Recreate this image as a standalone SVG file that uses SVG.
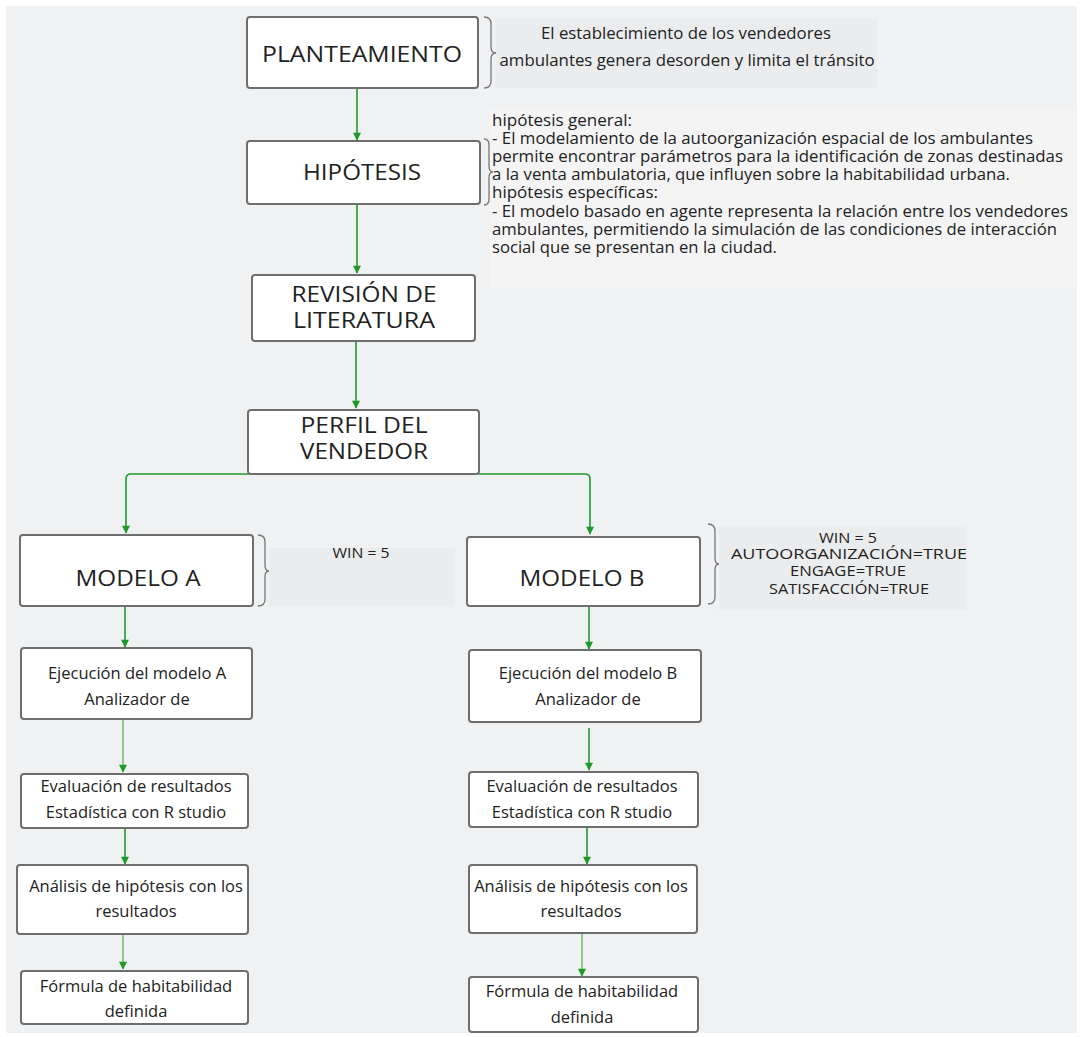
<svg xmlns="http://www.w3.org/2000/svg" width="1083" height="1037" viewBox="0 0 1083 1037">
<defs>
<marker id="arr" viewBox="0 0 10 10" refX="9" refY="5" markerWidth="9" markerHeight="8" markerUnits="userSpaceOnUse" orient="auto">
<path d="M0,0 L10,5 L0,10 z" fill="#1f9a2a"/>
</marker>
<style>
.box{fill:#ffffff;stroke:#6e6e6e;stroke-width:2}
.big{font-family:"Open Sans","Liberation Sans",sans-serif;font-size:22px;fill:#222;text-anchor:middle}
.mid{font-family:"Open Sans","Liberation Sans",sans-serif;font-size:16.5px;fill:#222;text-anchor:middle}
.par{font-family:"Open Sans","Liberation Sans",sans-serif;font-size:15px;fill:#222;text-anchor:middle}
.cond{font-family:"Open Sans","Liberation Sans",sans-serif;font-size:17px;fill:#222}
.hyp{font-family:"Open Sans","Liberation Sans",sans-serif;font-size:15.5px;fill:#222}
.note{fill:#ebecee}
.brace{fill:none;stroke:#777;stroke-width:1.3}
.con{fill:none;stroke:#1f9a2a;stroke-width:1.6;marker-end:url(#arr)}
.con2{fill:none;stroke:#3aaa3a;stroke-width:1.1;marker-end:url(#arr)}
</style>
</defs>
<rect x="0" y="0" width="1083" height="1037" fill="#ffffff"/>
<rect x="6" y="6" width="1071" height="1027" fill="#f0f1f3"/>

<g id="connectors">
<path class="con" d="M357,88 V140"/>
<path class="con" d="M357,204 V273"/>
<path class="con" d="M356,341 V408"/>
<path class="con" d="M250,474 H131 Q126,474 126,479 V533"/>
<path class="con" d="M478,474 H585 Q590,474 590,479 V534"/>
<path class="con" d="M125,606 V647"/>
<path class="con2" d="M123,719 V772"/>
<path class="con" d="M125,828 V864"/>
<path class="con2" d="M123,934 V969"/>
<path class="con" d="M589,606 V649"/>
<path class="con" d="M589,728 V770"/>
<path class="con" d="M587,828 V864"/>
<path class="con2" d="M582,934 V976"/>
</g>

<g id="planteamiento">
<rect class="box" x="247" y="17" width="231" height="71" rx="3"/>
<text class="big" x="362" y="62" textLength="200" lengthAdjust="spacingAndGlyphs">PLANTEAMIENTO</text>
</g>
<g id="planteamiento-note">
<path class="brace" d="M484,17 Q491,17 491,24 V47 Q491,53 496,53 Q491,53 491,59 V81 Q491,88 484,88"/>
<rect class="note" x="496" y="18" width="381" height="70"/>
<text class="cond" x="686" y="39" text-anchor="middle" textLength="290" lengthAdjust="spacingAndGlyphs">El establecimiento de los vendedores</text>
<text class="cond" x="687" y="66" text-anchor="middle" textLength="375" lengthAdjust="spacingAndGlyphs">ambulantes genera desorden y limita el tránsito</text>
</g>

<g id="hipotesis">
<rect class="box" x="247" y="141" width="233" height="63" rx="3"/>
<text class="big" x="362" y="180" textLength="118" lengthAdjust="spacingAndGlyphs">HIPÓTESIS</text>
</g>
<g id="hipotesis-note">
<rect x="490" y="110" width="586" height="178" fill="#f4f4f5"/>
<path class="brace" d="M484,139 Q489,139 489,145 V166 Q489,172 493,172 Q489,172 489,178 V199 Q489,205 484,205"/>
<text class="hyp" x="492" y="126" textLength="140" lengthAdjust="spacingAndGlyphs">hipótesis general:</text>
<text class="hyp" x="492" y="144" textLength="541" lengthAdjust="spacingAndGlyphs">- El modelamiento de la autoorganización espacial de los ambulantes</text>
<text class="hyp" x="492" y="162" textLength="571" lengthAdjust="spacingAndGlyphs">permite encontrar parámetros para la identificación de zonas destinadas</text>
<text class="hyp" x="492" y="180" textLength="518" lengthAdjust="spacingAndGlyphs">a la venta ambulatoria, que influyen sobre la habitabilidad urbana.</text>
<text class="hyp" x="492" y="198" textLength="166" lengthAdjust="spacingAndGlyphs">hipótesis específicas:</text>
<text class="hyp" x="492" y="217" textLength="576" lengthAdjust="spacingAndGlyphs">- El modelo basado en agente representa la relación entre los vendedores</text>
<text class="hyp" x="492" y="235" textLength="565" lengthAdjust="spacingAndGlyphs">ambulantes, permitiendo la simulación de las condiciones de interacción</text>
<text class="hyp" x="492" y="253" textLength="285" lengthAdjust="spacingAndGlyphs">social que se presentan en la ciudad.</text>
</g>

<g id="revision">
<rect class="box" x="252" y="275" width="223" height="66" rx="3"/>
<text class="big" x="364" y="302" textLength="145" lengthAdjust="spacingAndGlyphs">REVISIÓN DE</text>
<text class="big" x="364" y="328" textLength="142" lengthAdjust="spacingAndGlyphs">LITERATURA</text>
</g>

<g id="perfil">
<rect class="box" x="248" y="410" width="231" height="64" rx="3"/>
<text class="big" x="364" y="433" textLength="127" lengthAdjust="spacingAndGlyphs">PERFIL DEL</text>
<text class="big" x="364" y="459" textLength="128" lengthAdjust="spacingAndGlyphs">VENDEDOR</text>
</g>

<g id="modeloA">
<rect class="box" x="20" y="535" width="233" height="71" rx="3"/>
<text class="big" x="138" y="586" textLength="125" lengthAdjust="spacingAndGlyphs">MODELO A</text>
</g>
<g id="modeloA-note">
<path class="brace" d="M258,535 Q265,535 265,542 V565 Q265,571 269,571 Q265,571 265,577 V599 Q265,606 258,606"/>
<rect class="note" x="269" y="548" width="186" height="59"/>
<text class="par" x="361" y="558" textLength="57" lengthAdjust="spacingAndGlyphs">WIN = 5</text>
</g>

<g id="modeloB">
<rect class="box" x="467" y="537" width="233" height="69" rx="3"/>
<text class="big" x="582" y="586" textLength="125" lengthAdjust="spacingAndGlyphs">MODELO B</text>
</g>
<g id="modeloB-note">
<path class="brace" d="M708,524 Q715,524 715,531 V558 Q715,564 719,564 Q715,564 715,570 V597 Q715,604 708,604"/>
<rect class="note" x="719" y="527" width="248" height="83"/>
<text class="par" x="848" y="543" textLength="58" lengthAdjust="spacingAndGlyphs">WIN = 5</text>
<text class="par" x="849" y="559" textLength="236" lengthAdjust="spacingAndGlyphs">AUTOORGANIZACIÓN=TRUE</text>
<text class="par" x="848" y="576" textLength="116" lengthAdjust="spacingAndGlyphs">ENGAGE=TRUE</text>
<text class="par" x="849" y="594" textLength="160" lengthAdjust="spacingAndGlyphs">SATISFACCIÓN=TRUE</text>
</g>

<g id="ejecucionA">
<rect class="box" x="21" y="648" width="231" height="71" rx="3"/>
<text class="mid" x="137" y="679">Ejecución del modelo A</text>
<text class="mid" x="137" y="705">Analizador de</text>
</g>
<g id="evaluacionA">
<rect class="box" x="21" y="774" width="227" height="54" rx="3"/>
<text class="mid" x="136" y="792">Evaluación de resultados</text>
<text class="mid" x="136" y="818">Estadística con R studio</text>
</g>
<g id="analisisA">
<rect class="box" x="17" y="865" width="231" height="69" rx="3"/>
<text class="mid" x="136" y="892">Análisis de hipótesis con los</text>
<text class="mid" x="136" y="917">resultados</text>
</g>
<g id="formulaA">
<rect class="box" x="21" y="971" width="227" height="53" rx="3"/>
<text class="mid" x="136" y="992">Fórmula de habitabilidad</text>
<text class="mid" x="136" y="1017">definida</text>
</g>

<g id="ejecucionB">
<rect class="box" x="469" y="650" width="232" height="72" rx="3"/>
<text class="mid" x="588" y="679">Ejecución del modelo B</text>
<text class="mid" x="588" y="705">Analizador de</text>
</g>
<g id="evaluacionB">
<rect class="box" x="469" y="772" width="229" height="55" rx="3"/>
<text class="mid" x="582" y="792">Evaluación de resultados</text>
<text class="mid" x="582" y="818">Estadística con R studio</text>
</g>
<g id="analisisB">
<rect class="box" x="469" y="865" width="228" height="68" rx="3"/>
<text class="mid" x="581" y="892">Análisis de hipótesis con los</text>
<text class="mid" x="581" y="917">resultados</text>
</g>
<g id="formulaB">
<rect class="box" x="469" y="977" width="229" height="55" rx="3"/>
<text class="mid" x="582" y="997">Fórmula de habitabilidad</text>
<text class="mid" x="582" y="1023">definida</text>
</g>
</svg>
